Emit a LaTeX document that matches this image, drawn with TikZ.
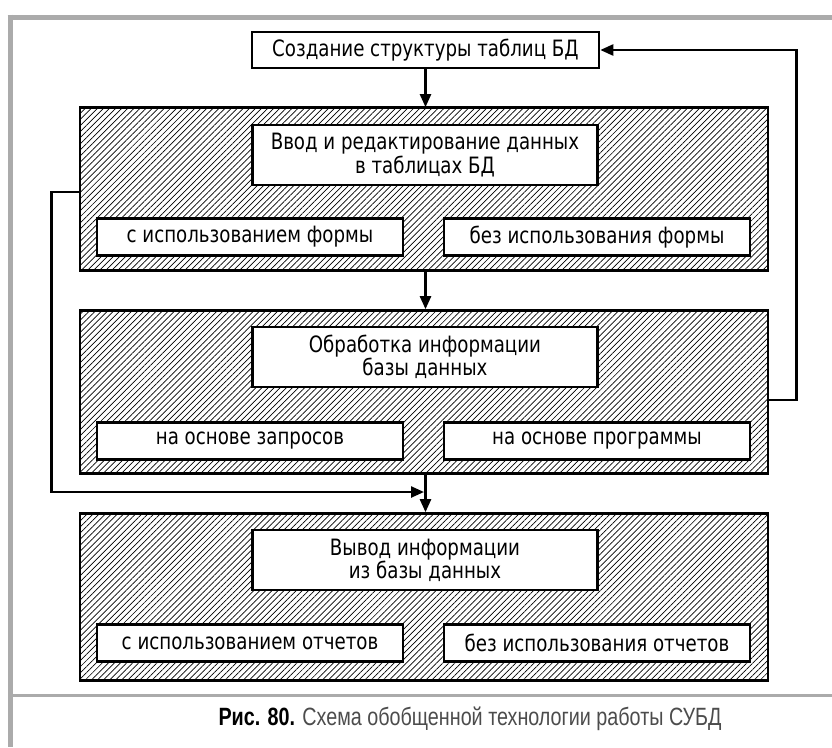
\documentclass[tikz,border=0pt]{standalone}
\usepackage{fontspec}
\setmainfont[FakeStretch=0.9]{DejaVu Sans Condensed}
\newfontfamily\capfont[FakeStretch=0.79]{Liberation Sans}
\usetikzlibrary{arrows.meta,patterns.meta}
\begin{document}
\begin{tikzpicture}[x=1pt,y=-1pt,
  hatchbox/.style={draw,line width=2.6pt,pattern={Lines[angle=45,distance=4.3pt,line width=0.7pt]},inner sep=0pt},
  txtbox/.style={draw,line width=2.6pt,fill=white,inner sep=0pt,align=center,font=\fontsize{22.5}{22}\selectfont},
  conn/.style={line width=2.4pt},
  arr/.style={conn,-{Triangle[length=13pt,width=11pt]}},
  frame/.style={draw=black!33,line width=5pt}
]
\useasboundingbox (0,0) rectangle (832,747);
% frame
\draw[frame] (7.5,17) -- (832,17);
\draw[frame] (10,14.5) -- (10,747);
\draw[draw=black!33,line width=3pt] (10,695) -- (832,695);

% top box
\node[txtbox,minimum width=347pt,minimum height=36pt] (top) at (425.5,50) {Создание структуры таблиц БД};

% block 1
\node[hatchbox,minimum width=688pt,minimum height=163pt] (b1) at (424,189) {};
\node[txtbox,minimum width=345pt,minimum height=60pt] (t1) at (425,155) {Ввод и редактирование данных\\в таблицах БД};
\node[txtbox,minimum width=306pt,minimum height=37pt] (l1) at (250,237) {с использованием формы};
\node[txtbox,minimum width=306pt,minimum height=37pt] (r1) at (597,237) {без использования формы};

% block 2
\node[hatchbox,minimum width=688pt,minimum height=163pt] (b2) at (424,392) {};
\node[txtbox,minimum width=345pt,minimum height=60pt] (t2) at (425,357) {Обработка информации\\базы данных};
\node[txtbox,minimum width=306pt,minimum height=37pt] (l2) at (250,441) {на основе запросов};
\node[txtbox,minimum width=306pt,minimum height=37pt] (r2) at (597,441) {на основе программы};

% block 3
\node[hatchbox,minimum width=688pt,minimum height=167pt] (b3) at (424,597) {};
\node[txtbox,minimum width=345pt,minimum height=60pt] (t3) at (425,560) {Вывод информации\\из базы данных};
\node[txtbox,minimum width=306pt,minimum height=37pt] (l3) at (250,643) {с использованием отчетов};
\node[txtbox,minimum width=306pt,minimum height=37pt] (r3) at (597,643) {без использования отчетов};

% connectors
\draw[arr] (top.south) -- (b1.north -| top.south);
\draw[arr] (b1.south -| top.south) -- (b2.north -| top.south);
\draw[arr] (b2.south -| top.south) -- (b3.north -| top.south);
\coordinate (j) at (424,492);
\draw[arr] ([yshift=-3pt]b1.west) -- ++(-28,0) |- (j);
\draw[arr] ([yshift=-8pt]b2.east) -- ++(27,0) |- (top.east);

% caption
\node[anchor=base,font=\capfont\fontsize{25}{28}\selectfont] (cap) at (470,725) {\textbf{Рис. 80.} \textcolor{black!70}{Схема обобщенной технологии работы СУБД}};
\end{tikzpicture}
\end{document}
